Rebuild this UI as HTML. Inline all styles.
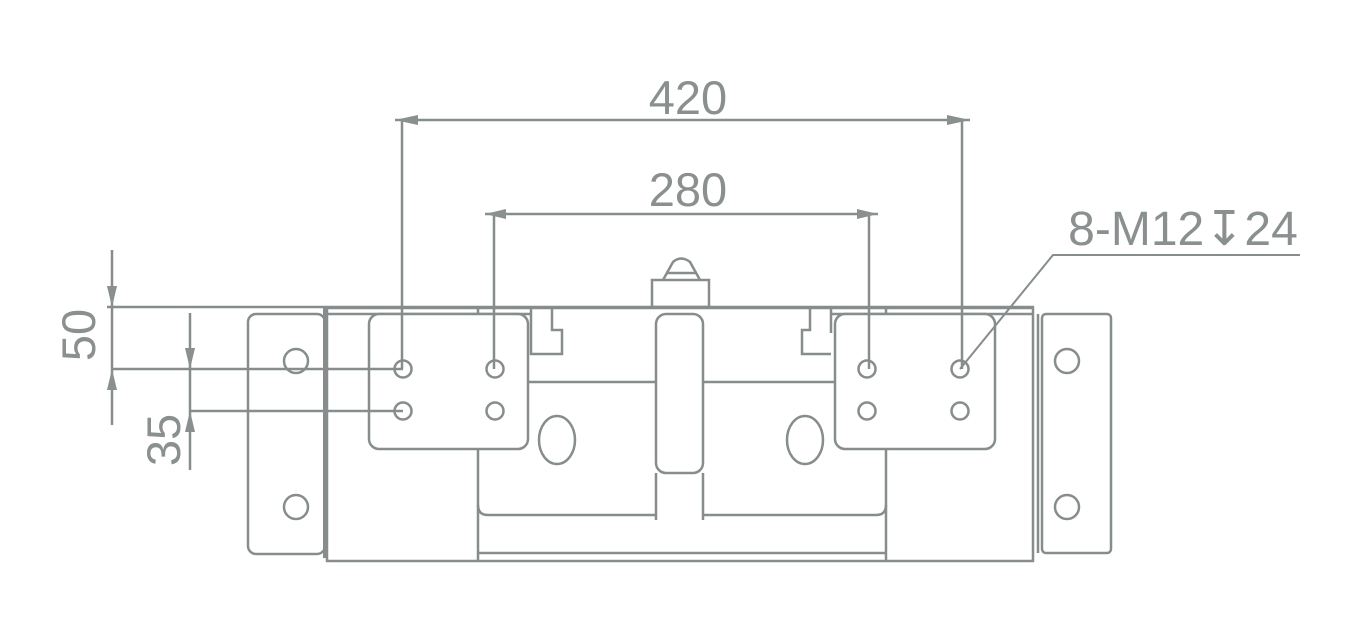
<!DOCTYPE html>
<html><head><meta charset="utf-8"><style>
html,body{margin:0;padding:0;background:#fff;}
svg{display:block;}
text{font-family:"Liberation Sans",sans-serif;fill:#8a8f8f;}
</style></head><body>
<svg width="1361" height="630" viewBox="0 0 1361 630" xmlns="http://www.w3.org/2000/svg">
<g fill="none" stroke="#878c8c" stroke-width="2.5">
<line x1="107" y1="307" x2="1034" y2="307"/>
<rect x="327" y="308" width="706" height="253"/>
<line x1="325" y1="308" x2="325" y2="558" stroke-width="4"/>
<line x1="478" y1="553" x2="886" y2="553"/>
<line x1="328" y1="314" x2="531" y2="314"/>
<line x1="831" y1="314" x2="1033" y2="314"/>
<line x1="478" y1="308" x2="478" y2="314"/>
<line x1="886" y1="308" x2="886" y2="314"/>
<rect x="248" y="314" width="77" height="240" rx="8"/>
<circle cx="296" cy="361" r="12"/>
<circle cx="296" cy="507" r="12"/>
<line x1="1038" y1="314" x2="1038" y2="553"/>
<rect x="1042" y="314" width="69" height="239" rx="4"/>
<circle cx="1067" cy="361" r="12"/>
<circle cx="1067" cy="507" r="12"/>
<rect x="369" y="314" width="159" height="135" rx="10" fill="#fff"/>
<rect x="835" y="314" width="160" height="135" rx="10" fill="#fff"/>
<line x1="478" y1="449" x2="478" y2="561"/>
<line x1="886" y1="449" x2="886" y2="561"/>
<line x1="528" y1="382" x2="656" y2="382"/>
<line x1="703" y1="382" x2="835" y2="382"/>
<path d="M478 505 Q478 515 488 515 L656 515"/>
<path d="M886 505 Q886 515 876 515 L703 515"/>
<line x1="656" y1="473" x2="656" y2="520"/>
<line x1="703" y1="473" x2="703" y2="520"/>
<path d="M531 308 V333 M552 308 V330 H562 V354 H531 V333"/>
<path d="M831 308 V333 M810 308 V330 H802 V354 H831"/>
<rect x="656" y="314" width="47" height="159" rx="10"/>
<rect x="652" y="280" width="57" height="27"/>
<path d="M663 280 L673 262 Q681 255 690 262 L700 280"/>
<line x1="667" y1="273" x2="696" y2="273"/>
<ellipse cx="557" cy="440" rx="18" ry="24"/>
<ellipse cx="805" cy="440" rx="18" ry="24"/>
<circle cx="403" cy="369" r="8.5"/><circle cx="495" cy="369" r="8.5"/>
<circle cx="403" cy="411" r="8.5"/><circle cx="495" cy="411" r="8.5"/>
<circle cx="867" cy="369" r="8.5"/><circle cx="960" cy="369" r="8.5"/>
<circle cx="867" cy="411" r="8.5"/><circle cx="960" cy="411" r="8.5"/>
<line x1="395" y1="120" x2="970" y2="120"/>
<line x1="402" y1="120" x2="402" y2="369"/>
<line x1="962" y1="120" x2="962" y2="369"/>
<line x1="485" y1="214" x2="878" y2="214"/>
<line x1="494" y1="214" x2="494" y2="369"/>
<line x1="869" y1="214" x2="869" y2="369"/>
<line x1="112" y1="250" x2="112" y2="425"/>
<line x1="112" y1="369" x2="403" y2="369"/>
<line x1="190" y1="313" x2="190" y2="470"/>
<line x1="190" y1="411" x2="403" y2="411"/>
<polyline points="960,369 1053,255 1300,255" stroke-width="2"/>
</g>
<g fill="#8a8f8f">
<polygon points="395,120 418,115 418,125"/>
<polygon points="970,120 947,115 947,125"/>
<polygon points="485,214 506,209 506,219"/>
<polygon points="878,214 857,209 857,219"/>
<polygon points="112,307 107,286 117,286"/>
<polygon points="112,369 107,390 117,390"/>
<polygon points="190,369 185,348 195,348"/>
<polygon points="190,411 185,432 195,432"/>
</g>
<text x="688" y="114" font-size="47" text-anchor="middle">420</text>
<text x="688" y="206" font-size="47" text-anchor="middle">280</text>
<text x="1183" y="245" font-size="48" text-anchor="middle">8-M12↧24</text>
<text transform="translate(95,335) rotate(-90)" font-size="47" text-anchor="middle">50</text>
<text transform="translate(180,440) rotate(-90)" font-size="47" text-anchor="middle">35</text>
</svg>
</body></html>
